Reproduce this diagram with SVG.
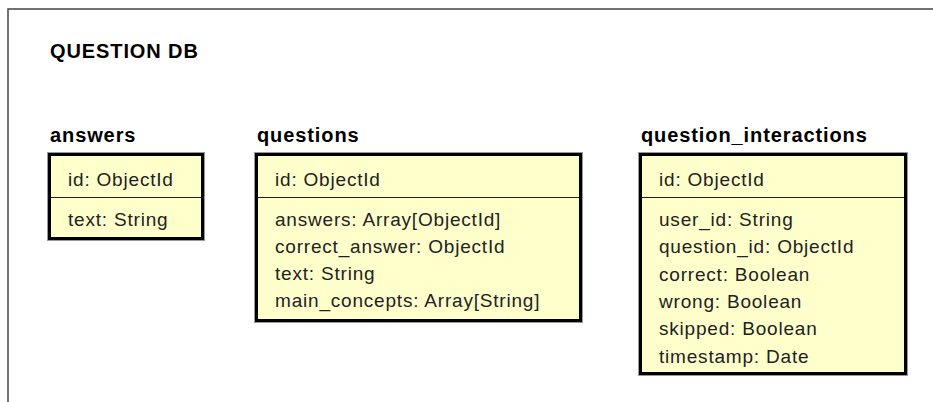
<svg xmlns="http://www.w3.org/2000/svg" width="933" height="402" viewBox="0 0 933 402">
  <style>
    .frame { fill: none; stroke: #444; stroke-width: 1.5; }
    .title { font-family: "Liberation Sans", Arial, sans-serif; font-weight: bold; font-size: 20px; letter-spacing: 0.9px; fill: #000; }
    .entity { fill: #FFFFCC; stroke: #000; stroke-width: 3; }
    .shade { fill: none; stroke: #999; stroke-width: 1; }
    .sep { stroke: #222; stroke-width: 1; }
    .attr { font-family: "Liberation Sans", Arial, sans-serif; font-size: 19px; letter-spacing: 0.8px; fill: #222; }
  </style>

  <!-- package frame -->
  <path class="frame" d="M8,402 V9 H933"/>
  <text class="title" x="50" y="58">QUESTION DB</text>

  <g id="answers">
    <text class="title" x="50" y="142">answers</text>
    <rect class="shade" x="47.5" y="152.5" width="157" height="88"/>
    <rect class="entity" x="49.5" y="154.5" width="153" height="84"/>
    <line class="sep" x1="51" y1="197.5" x2="201" y2="197.5"/>
    <text class="attr" x="68" y="186">id: ObjectId</text>
    <text class="attr" x="68" y="226">text: String</text>
  </g>

  <g id="questions">
    <text class="title" x="257" y="142">questions</text>
    <rect class="shade" x="254.5" y="152.5" width="328" height="170"/>
    <rect class="entity" x="256.5" y="154.5" width="324" height="166"/>
    <line class="sep" x1="258" y1="197.5" x2="579" y2="197.5"/>
    <text class="attr" x="275" y="186">id: ObjectId</text>
    <text class="attr" x="275" y="226">answers: Array[ObjectId]</text>
    <text class="attr" x="275" y="253">correct_answer: ObjectId</text>
    <text class="attr" x="275" y="280">text: String</text>
    <text class="attr" x="275" y="307">main_concepts: Array[String]</text>
  </g>

  <g id="question_interactions">
    <text class="title" x="641" y="142">question_interactions</text>
    <rect class="shade" x="638.5" y="152.5" width="269" height="223"/>
    <rect class="entity" x="640.5" y="154.5" width="265" height="219"/>
    <line class="sep" x1="642" y1="197.5" x2="904" y2="197.5"/>
    <text class="attr" x="659" y="186">id: ObjectId</text>
    <text class="attr" x="659" y="226">user_id: String</text>
    <text class="attr" x="659" y="253">question_id: ObjectId</text>
    <text class="attr" x="659" y="281">correct: Boolean</text>
    <text class="attr" x="659" y="308">wrong: Boolean</text>
    <text class="attr" x="659" y="335">skipped: Boolean</text>
    <text class="attr" x="659" y="363">timestamp: Date</text>
  </g>

  <g id="connectors"></g>
</svg>
